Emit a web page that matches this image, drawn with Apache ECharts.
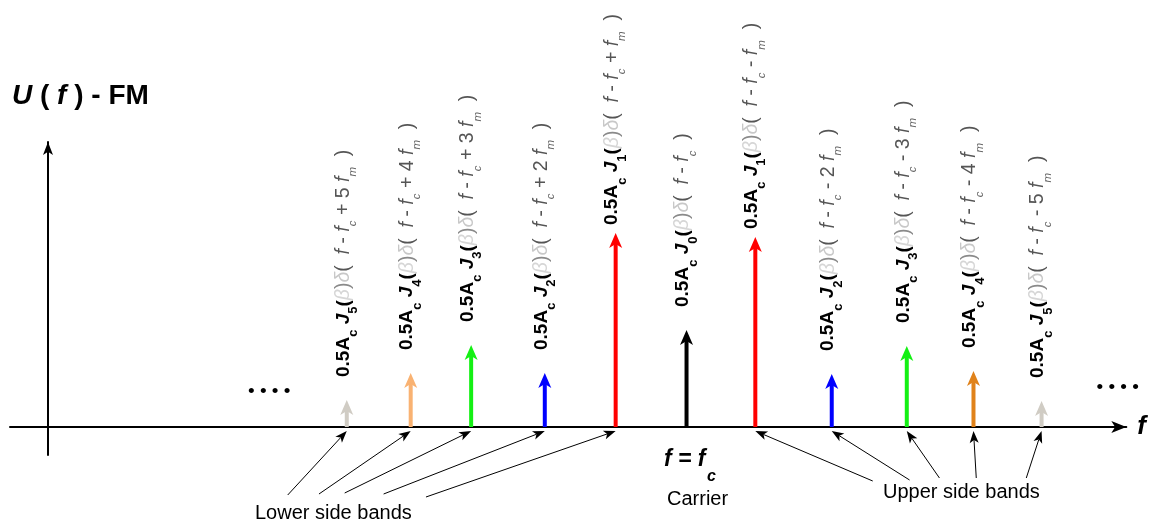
<!DOCTYPE html>
<html>
<head>
<meta charset="utf-8">
<script src="https://cdn.jsdelivr.net/npm/echarts@6/dist/echarts.min.js"></script>
<style>html,body{margin:0;padding:0;background:#fff}#c{width:1149px;height:529px}</style>
</head>
<body>
<div id="c"></div>
<script>
// ---- data ----
const harmonicIdx = [-5, -4, -3, -2, -1, 0, 1, 2, 3, 4, 5];
// spectral line positions, in units of f_m measured from f = 0 (the vertical axis)
const bandFreq = [4.30, 5.22, 6.09, 7.15, 8.17, 9.19, 10.18, 11.28, 12.36, 13.32, 14.30];
// line heights (relative amplitude)
const bandAmp = [0.135, 0.27, 0.41, 0.27, 0.97, 0.485, 0.95, 0.265, 0.405, 0.28, 0.13];
const bandColors = ['#d0ccc4', '#f9b272', '#14f014', '#0000ff', '#ff0000', '#000000',
                    '#ff0000', '#0000ff', '#14f014', '#e0821a', '#d0ccc4'];
// annotation pointers: start point (freq, level) -> target spectral line index
const lowerPointerFrom = [[3.45, -0.34], [3.90, -0.335], [4.27, -0.33], [4.83, -0.335], [5.44, -0.35]];
const lowerPointerTo = [0, 1, 2, 3, 4];
const upperPointerFrom = [[11.87, -0.27], [12.40, -0.265], [12.83, -0.255], [13.36, -0.255], [14.08, -0.255]];
const upperPointerTo = [6, 7, 8, 9, 10];
const pointerEndLevel = -0.02;

const FONT = '"Liberation Sans", Arial, Helvetica, sans-serif';

function bandLabel(k) {
  const n = Math.abs(k);
  let s = '{b|0.5A}{bs|c}{bi| J}{bs|' + n + '}{b|(}{beta|β}{gp|)}{delta|δ}{g|(  }{gi|f}{g| - }{gi|f}{gsi|c}';
  if (k !== 0) {
    s += '{g| ' + (k < 0 ? '+' : '-') + ' ' + (n > 1 ? n + ' ' : '') + '}{gi|f}{gsi|m}';
  }
  s += '{g|  )}';
  return s;
}

const SUB_PAD = [20, 0, 0, 0];
const GS = 19.5;
const labelRich = {
  b:    { fontFamily: FONT, fontWeight: 'bold', fontSize: 19, fill: '#000' },
  bi:   { fontFamily: FONT, fontWeight: 'bold', fontStyle: 'italic', fontSize: 19, fill: '#000' },
  bs:   { fontFamily: FONT, fontWeight: 'bold', fontSize: 13, fill: '#000', padding: SUB_PAD },
  beta: { fontFamily: FONT, fontStyle: 'italic', fontSize: GS, fill: '#d6d6d6' },
  gp:   { fontFamily: FONT, fontSize: GS, fill: '#8a8a8a' },
  delta:{ fontFamily: FONT, fontStyle: 'italic', fontSize: GS, fill: '#c8c8c8' },
  g:    { fontFamily: FONT, fontSize: GS, fill: '#555' },
  gi:   { fontFamily: FONT, fontStyle: 'italic', fontSize: GS, fill: '#555' },
  gsi:  { fontFamily: FONT, fontStyle: 'italic', fontSize: 11.5, fill: '#666', padding: SUB_PAD }
};

const bandData = bandFreq.map((f, i) => [f, bandAmp[i], i]);
const pointerData = [];
lowerPointerFrom.forEach((p, j) => pointerData.push([p[0], p[1], bandFreq[lowerPointerTo[j]], pointerEndLevel]));
upperPointerFrom.forEach((p, j) => pointerData.push([p[0], p[1], bandFreq[upperPointerTo[j]], pointerEndLevel]));

const chart = echarts.init(document.getElementById('c'), null, { renderer: 'canvas' });

function renderBand(params, api) {
  const i = api.value(2);
  const base = api.coord([api.value(0), 0]);
  const tip = api.coord([api.value(0), api.value(1)]);
  const color = bandColors[i];
  const headLen = 15, headHalf = 6.5, notch = 11;
  const gap = tip[1] < 260 ? 8 : 23;
  return {
    type: 'group',
    children: [
      { type: 'line', shape: { x1: base[0], y1: base[1], x2: tip[0], y2: tip[1] + notch },
        style: { stroke: color, lineWidth: 4 } },
      { type: 'polygon', shape: { points: [[tip[0], tip[1]], [tip[0] + headHalf, tip[1] + headLen],
          [tip[0], tip[1] + notch], [tip[0] - headHalf, tip[1] + headLen]] },
        style: { fill: color } },
      { type: 'text', x: tip[0] - 3.5, y: tip[1] - gap, rotation: Math.PI / 2,
        style: { text: bandLabel(harmonicIdx[i]), rich: labelRich, align: 'left', verticalAlign: 'middle',
                 fontFamily: FONT, fontSize: 18 } }
    ]
  };
}

function renderPointer(params, api) {
  const p0 = api.coord([api.value(0), api.value(1)]);
  const p1 = api.coord([api.value(2), api.value(3)]);
  const dx = p1[0] - p0[0], dy = p1[1] - p0[1];
  const len = Math.sqrt(dx * dx + dy * dy);
  const ux = dx / len, uy = dy / len, px = -uy, py = ux;
  const hl = 12, hw = 4.5, nt = 9;
  return {
    type: 'group',
    children: [
      { type: 'line', shape: { x1: p0[0], y1: p0[1], x2: p1[0] - ux * nt, y2: p1[1] - uy * nt },
        style: { stroke: '#000', lineWidth: 1 } },
      { type: 'polygon', shape: { points: [[p1[0], p1[1]],
          [p1[0] - ux * hl + px * hw, p1[1] - uy * hl + py * hw],
          [p1[0] - ux * nt, p1[1] - uy * nt],
          [p1[0] - ux * hl - px * hw, p1[1] - uy * hl - py * hw]] },
        style: { fill: '#000' } }
    ]
  };
}

chart.setOption({
  animation: false,
  backgroundColor: '#fff',
  title: {
    text: '{i|U} ( {i|f} ) - FM',
    left: 12, top: 82, padding: 0,
    textStyle: { fontFamily: FONT, fontWeight: 'bold', fontSize: 28, color: '#000',
      rich: { i: { fontFamily: FONT, fontWeight: 'bold', fontStyle: 'italic', fontSize: 28, color: '#000' } } }
  },
  grid: { left: 10, right: 22, top: 142, bottom: 74, containLabel: false },
  xAxis: {
    type: 'value', min: -0.547, max: 15.52,
    name: 'f', nameLocation: 'end', nameGap: 11,
    nameTextStyle: { fontFamily: FONT, fontWeight: 'bold', fontStyle: 'italic', fontSize: 26, color: '#000' },
    axisLine: { show: true, onZero: true, symbol: ['none', 'arrow'], symbolSize: [9, 15],
      lineStyle: { color: '#000', width: 2 } },
    axisTick: { show: false }, axisLabel: { show: false }, splitLine: { show: false }
  },
  yAxis: {
    type: 'value', min: -0.14, max: 1.425,
    axisLine: { show: true, onZero: true, symbol: ['none', 'arrow'], symbolSize: [7.5, 13],
      lineStyle: { color: '#000', width: 2 } },
    axisTick: { show: false }, axisLabel: { show: false }, splitLine: { show: false }
  },
  graphic: [
    { type: 'text', x: 248, y: 392, style: { text: '• • • •', fontFamily: FONT, fontSize: 19, fill: '#000', verticalAlign: 'middle' } },
    { type: 'text', x: 1096.5, y: 388, style: { text: '• • • •', fontFamily: FONT, fontSize: 19, fill: '#000', verticalAlign: 'middle' } },
    { type: 'text', x: 664, y: 460, style: { text: 'f = f', fontFamily: FONT, fontWeight: 'bold', fontStyle: 'italic', fontSize: 23, fill: '#000', verticalAlign: 'middle' } },
    { type: 'text', x: 707, y: 477, style: { text: 'c', fontFamily: FONT, fontWeight: 'bold', fontStyle: 'italic', fontSize: 16, fill: '#000', verticalAlign: 'middle' } },
    { type: 'text', x: 667, y: 499, style: { text: 'Carrier', fontFamily: FONT, fontSize: 20, fill: '#000', verticalAlign: 'middle' } },
    { type: 'text', x: 255, y: 513, style: { text: 'Lower side bands', fontFamily: FONT, fontSize: 20, fill: '#000', verticalAlign: 'middle' } },
    { type: 'text', x: 883, y: 492, style: { text: 'Upper side bands', fontFamily: FONT, fontSize: 20, fill: '#000', verticalAlign: 'middle' } }
  ],
  series: [
    { type: 'custom', name: 'pointers', coordinateSystem: 'cartesian2d', clip: false,
      encode: { x: [0, 2], y: [1, 3] }, data: pointerData, renderItem: renderPointer, silent: true },
    { type: 'custom', name: 'spectrum', coordinateSystem: 'cartesian2d', clip: false,
      encode: { x: 0, y: 1 }, data: bandData, renderItem: renderBand, silent: true }
  ]
});
</script>
</body>
</html>
